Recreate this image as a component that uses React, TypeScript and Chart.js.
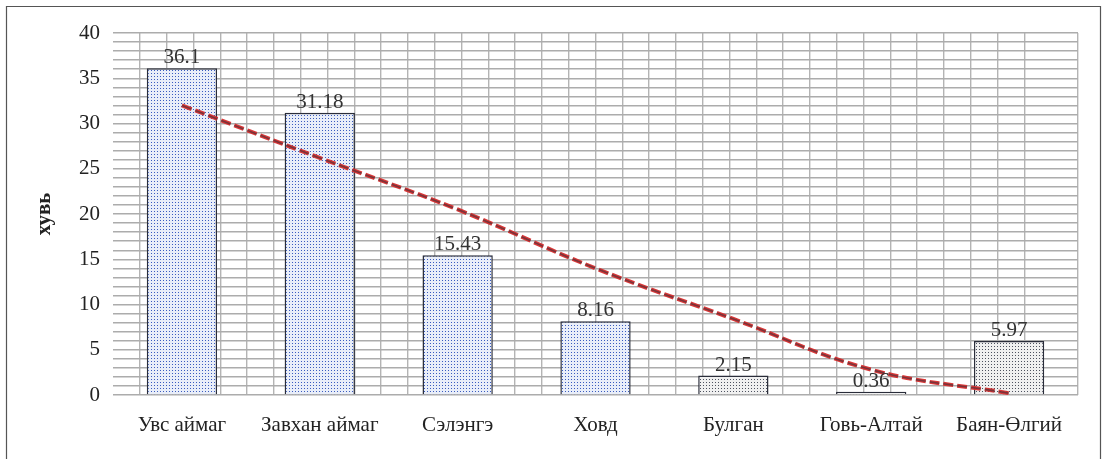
import React, { useEffect, useRef } from "react";
import { Chart, registerables } from "chart.js";

Chart.register(...registerables);

const categories = ["Увс аймаг", "Завхан аймаг", "Сэлэнгэ", "Ховд", "Булган", "Говь-Алтай", "Баян-Өлгий"];
const values = [36.1, 31.18, 15.43, 8.16, 2.15, 0.36, 5.97];
const valueLabels = ["36.1", "31.18", "15.43", "8.16", "2.15", "0.36", "5.97"];
const trendValues = [32.0, 26.2, 20.5, 14.0, 8.4, 2.8, 0.2];
const yTickLabels = [0, 5, 10, 15, 20, 25, 30, 35, 40];
const yTitle = "хувь";

const SERIF = "'Liberation Serif', 'DejaVu Serif', serif";

function makePattern(dot: string, bg: string): CanvasPattern | string {
  const c = document.createElement("canvas");
  c.width = 3;
  c.height = 3;
  const g = c.getContext("2d");
  if (!g) return bg;
  g.fillStyle = bg;
  g.fillRect(0, 0, 3, 3);
  g.fillStyle = dot;
  g.fillRect(1, 1, 1, 1);
  const ctx = document.createElement("canvas").getContext("2d");
  return (ctx && ctx.createPattern(c, "repeat")) || bg;
}

export default function App() {
  const ref = useRef<HTMLCanvasElement | null>(null);

  useEffect(() => {
    if (!ref.current) return;
    const blue = makePattern("#3a5cc0", "#e9eef9");
    const gray = makePattern("#4d5260", "#f0f0f0");
    const fills = values.map((_, i) => (i < 4 ? blue : gray));

    const overlay = {
      id: "overlay",
      afterDatasetsDraw(chart: any) {
        const ctx = chart.ctx;
        const meta = chart.getDatasetMeta(0);
        ctx.save();
        ctx.font = `21px ${SERIF}`;
        ctx.fillStyle = "#333";
        ctx.textAlign = "center";
        ctx.textBaseline = "bottom";
        meta.data.forEach((el: any, i: number) => {
          ctx.fillText(valueLabels[i], el.x, el.y);
        });
        ctx.restore();
      },
      afterDraw(chart: any) {
        const ctx = chart.ctx;
        const area = chart.chartArea;
        ctx.save();
        ctx.translate(45, (area.top + area.bottom) / 2);
        ctx.rotate(-Math.PI / 2);
        ctx.font = `bold 21px ${SERIF}`;
        ctx.fillStyle = "#222";
        ctx.textAlign = "center";
        ctx.textBaseline = "middle";
        ctx.fillText(yTitle, 0, 0);
        ctx.restore();
        ctx.save();
        ctx.strokeStyle = "#555";
        ctx.lineWidth = 1.2;
        ctx.beginPath();
        ctx.moveTo(6.5, 470);
        ctx.lineTo(6.5, 6.5);
        ctx.lineTo(1100.5, 6.5);
        ctx.lineTo(1100.5, 470);
        ctx.stroke();
        ctx.restore();
      },
    };

    const chart = new Chart(ref.current, {
      type: "bar",
      data: {
        labels: categories,
        datasets: [
          {
            type: "bar",
            data: values,
            backgroundColor: fills as any,
            borderColor: "#2a2d3a",
            borderWidth: 1.5,
            barPercentage: 0.51,
            categoryPercentage: 1,
            order: 2,
          },
          {
            type: "line",
            data: trendValues,
            borderColor: "rgba(215,45,45,0.95)",
            borderWidth: 4,
            borderDash: [10, 4],
            pointRadius: 0,
            tension: 0.4,
            fill: false,
            order: 1,
          },
          {
            type: "line",
            data: trendValues,
            borderColor: "rgba(60,50,60,0.6)",
            borderWidth: 1.6,
            borderDash: [10, 4],
            pointRadius: 0,
            tension: 0.4,
            fill: false,
            order: 0,
          },
        ],
      },
      options: {
        responsive: false,
        animation: false,
        layout: { padding: { left: 0, right: 26, top: 33, bottom: 0 } },
        plugins: {
          legend: { display: false },
          tooltip: { enabled: false },
        },
        scales: {
          x: {
            type: "category",
            grid: { display: false },
            border: { display: false },
            ticks: {
              color: "#222",
              font: { family: SERIF, size: 21 },
              padding: 10,
              maxRotation: 0,
              autoSkip: false,
            },
            afterFit(scale: any) {
              scale.height = 64;
            },
          },
          xg: {
            type: "linear",
            position: "bottom",
            min: 0,
            max: 35,
            display: true,
            ticks: { display: false, stepSize: 1 },
            border: { display: false },
            grid: {
              drawTicks: false,
              color: (c: any) =>
                c.tick && (c.tick.value === 0 || c.tick.value === 35) ? "rgba(0,0,0,0)" : "#b4b4b4",
              lineWidth: 1.4,
            },
            afterFit(scale: any) {
              scale.height = 0;
            },
          },
          y: {
            min: 0,
            max: 40,
            border: { display: false },
            grid: { color: "#acacac", lineWidth: 1.4, drawTicks: false },
            ticks: {
              stepSize: 1,
              autoSkip: false,
              padding: 13,
              color: "#222",
              font: { family: SERIF, size: 21 },
              callback: (v: any) => (yTickLabels.includes(Number(v)) ? String(v) : ""),
            },
            afterFit(scale: any) {
              scale.width = 113;
            },
          },
        },
      },
      plugins: [overlay],
    });
    return () => chart.destroy();
  }, []);

  return (
    <div style={{ position: "absolute", left: 0, top: 0, width: 1104, height: 459, background: "#fff" }}>
      <canvas ref={ref} width={1104} height={459} style={{ width: 1104, height: 459, display: "block" }} />
    </div>
  );
}
